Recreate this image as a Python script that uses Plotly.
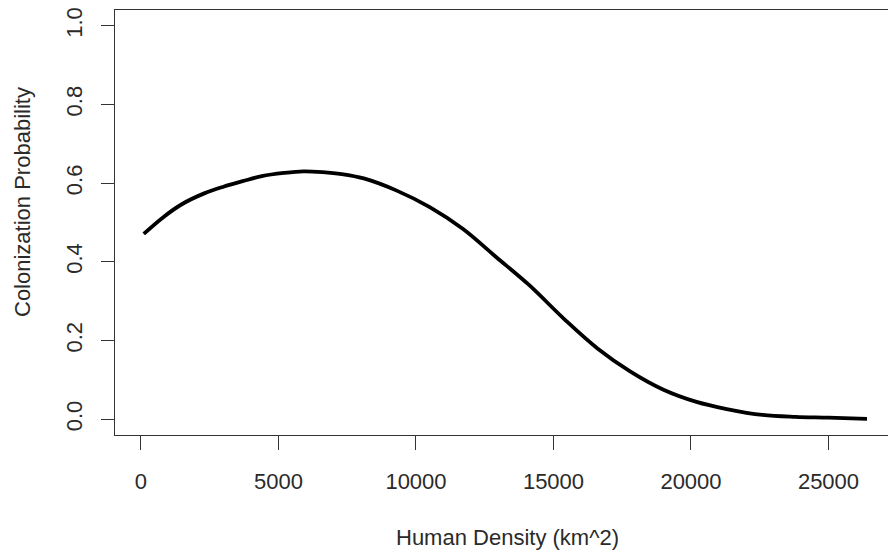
import plotly.graph_objects as go

density = [100, 800, 1500, 2300, 3000, 3700, 4400, 5200, 5900, 6600, 7300, 8100,
           9300, 10500, 11700, 12900, 14100, 15400, 16600, 17800, 19000, 20200,
           21300, 22600, 23800, 25000, 26400]
prob = [0.471, 0.513, 0.547, 0.574, 0.591, 0.605, 0.618, 0.626, 0.630, 0.628,
        0.623, 0.612, 0.581, 0.539, 0.484, 0.413, 0.342, 0.254, 0.180, 0.121,
        0.075, 0.044, 0.026, 0.011, 0.006, 0.004, 0.001]

x_ticks = [0, 5000, 10000, 15000, 20000, 25000]
x_ticktext = ["0", "5000", "10000", "15000", "20000", "25000"]
y_ticks = [0.0, 0.2, 0.4, 0.6, 0.8, 1.0]
y_ticktext = ["0.0", "0.2", "0.4", "0.6", "0.8", "1.0"]

FONT = "Liberation Sans, Arial, sans-serif"
AX = "#333333"
TXT = "#2a2a2a"

fig = go.Figure()
fig.add_trace(go.Scatter(x=density, y=prob, mode="lines",
                         line=dict(color="black", width=3.8, shape="spline", smoothing=1.0),
                         showlegend=False, hoverinfo="skip"))

fig.update_layout(
    width=888, height=550,
    margin=dict(l=115, r=0, t=10, b=115),
    paper_bgcolor="white", plot_bgcolor="white",
    font=dict(family=FONT, size=22, color=TXT),
    xaxis=dict(range=[-945, 27164], showgrid=False, zeroline=False,
               showline=True, linecolor=AX, linewidth=1.3, mirror=True,
               ticks="outside", ticklen=14, tickwidth=1.3, tickcolor=AX,
               tickvals=x_ticks, ticktext=x_ticktext, ticklabelstandoff=12),
    yaxis=dict(range=[-0.04, 1.04], showgrid=False, zeroline=False,
               showline=True, linecolor=AX, linewidth=1.3, mirror=False,
               ticks="outside", ticklen=13, tickwidth=1.3, tickcolor=AX,
               tickvals=y_ticks, ticktext=y_ticktext, tickangle=-90,
               ticklabelstandoff=10),
    annotations=[
        dict(text="Human Density (km^2)", xref="paper", yref="paper",
             x=(507 - 115) / 773, y=-(537 - 435) / 425, xanchor="center", yanchor="middle",
             showarrow=False, font=dict(family=FONT, size=22, color=TXT)),
        dict(text="Colonization Probability", xref="paper", yref="paper",
             x=-(115 - 22) / 773, y=(435 - 202) / 425, xanchor="center", yanchor="middle",
             textangle=-90, showarrow=False,
             font=dict(family=FONT, size=22, color=TXT)),
    ],
)

fig.write_html("out.html")
